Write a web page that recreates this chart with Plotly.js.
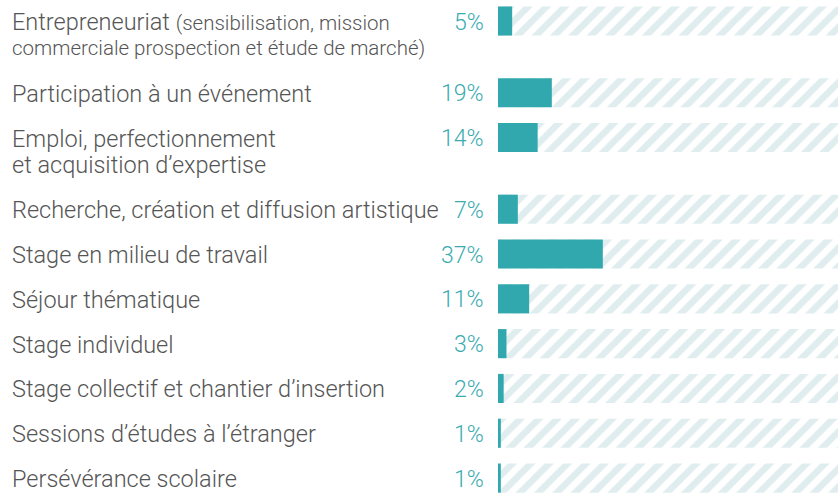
<!DOCTYPE html>
<html>
<head>
<meta charset="utf-8">
<script src="https://cdn.plot.ly/plotly-3.0.1.min.js"></script>
<style>html,body{margin:0;padding:0;background:#fff;}#chart{width:838px;height:496px;}</style>
</head>
<body>
<div id="chart"></div>
<script>
// ---- data ----
var categories = [
  'Entrepreneuriat <span style="font-size:20.5px">(sensibilisation, mission</span><br><span style="font-size:20.5px">commerciale prospection et étude de marché)</span>',
  'Participation à un événement',
  'Emploi, perfectionnement<br>et acquisition d\u2019expertise',
  'Recherche, création et diffusion artistique',
  'Stage en milieu de travail',
  'Séjour thématique',
  'Stage individuel',
  'Stage collectif et chantier d\u2019insertion',
  'Sessions d\u2019études à l\u2019étranger',
  'Persévérance scolaire'
];
var values = [5, 19, 14, 7, 37, 11, 3, 2, 1, 1];
var valueLabels = ['5%', '19%', '14%', '7%', '37%', '11%', '3%', '2%', '1%', '1%'];

// ---- layout helpers ----
var TEAL = '#31a8ae';
var TRACK_MAX = 120;
var FONT = 'Roboto, "Open Sans", sans-serif';
var labelLines = categories.map(function (c) { return c.split('<br>'); });
var pos = [];
var p = 0;
for (var i = 0; i < categories.length; i++) {
  pos.push(p);
  p += 1 + 0.6 * (labelLines[i].length - 1);
}
var trackX = values.map(function () { return TRACK_MAX; });

var traces = [
  {
    type: 'bar', orientation: 'h', y: pos, x: trackX, width: 0.65,
    marker: {color: '#ffffff', line: {width: 0},
      pattern: {shape: '/', fgcolor: '#dfedef', bgcolor: '#ffffff', size: 13, solidity: 0.5}},
    hoverinfo: 'skip', showlegend: false
  },
  {
    type: 'bar', orientation: 'h', y: pos, x: values, width: 0.65,
    marker: {color: TEAL, line: {width: 0}},
    showlegend: false
  }
];

var annotations = [];
for (var j = 0; j < categories.length; j++) {
  for (var k = 0; k < labelLines[j].length; k++) {
    annotations.push({
      xref: 'paper', yref: 'y', x: (10 - 498) / 340, y: pos[j],
      xanchor: 'left', yanchor: 'middle', align: 'left',
      yshift: -26 * k - 1,
      text: labelLines[j][k], showarrow: false,
      font: {family: FONT, size: 23.5, color: '#555555', weight: 300}
    });
  }
  annotations.push({
    xref: 'x', yref: 'y', x: 0, y: pos[j],
    xanchor: 'right', yanchor: 'middle', xshift: -12, yshift: -1,
    text: valueLabels[j], showarrow: false,
    font: {family: FONT, size: 23, color: '#3aabb0', weight: 300}
  });
}

var layout = {
  width: 838, height: 496,
  margin: {l: 498, r: 0, t: 0, b: 0, pad: 0},
  paper_bgcolor: '#ffffff', plot_bgcolor: '#ffffff',
  barmode: 'overlay',
  xaxis: {range: [0, TRACK_MAX], visible: false, fixedrange: true},
  yaxis: {range: [10.6, -0.469], visible: false, fixedrange: true},
  annotations: annotations,
  showlegend: false
};

Plotly.newPlot('chart', traces, layout, {displayModeBar: false, staticPlot: true});
</script>
</body>
</html>
